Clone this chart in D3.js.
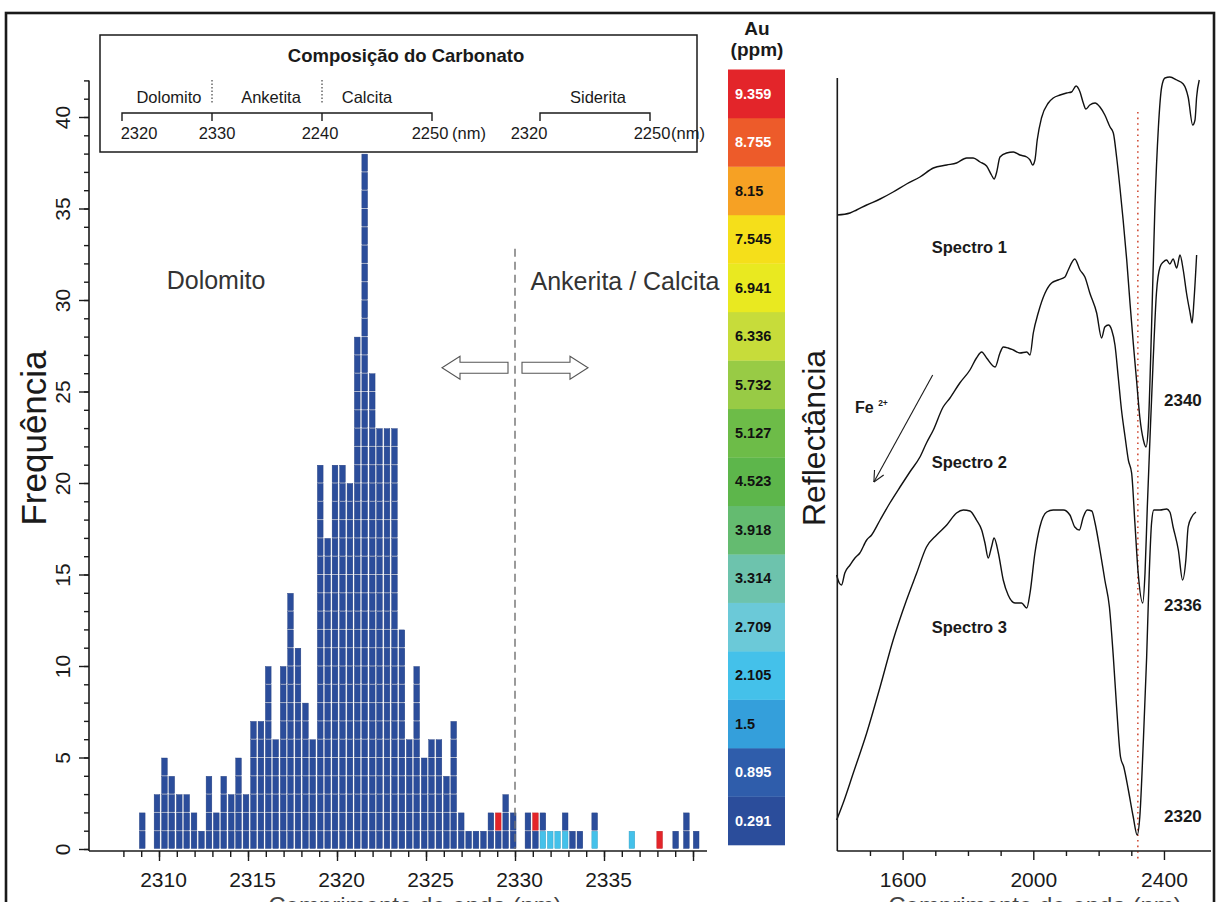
<!DOCTYPE html>
<html>
<head>
<meta charset="utf-8">
<script src="https://cdn.jsdelivr.net/npm/d3@7"></script>
<style>
  html, body { margin: 0; padding: 0; background: #fff; }
  svg { display: block; font-family: "Liberation Sans", Arial, Helvetica, sans-serif; }
</style>
</head>
<body>
<svg id="fig" width="1217" height="902"></svg>
<script>
// ---------------- Histogram: position of the carbonate absorption feature (nm) ----------------
const binWidth = 0.417;
const binStart = [
  2308.88, 2309.71, 2310.13, 2310.54, 2310.96, 2311.38, 2311.79, 2312.21, 2312.63, 2313.04,
  2313.46, 2313.88, 2314.29, 2314.71, 2315.13, 2315.55, 2315.96, 2316.38, 2316.80, 2317.21,
  2317.63, 2318.05, 2318.46, 2318.88, 2319.30, 2319.71, 2320.13, 2320.55, 2320.96, 2321.38,
  2321.80, 2322.21, 2322.63, 2323.05, 2323.47, 2323.88, 2324.30, 2324.72, 2325.13, 2325.55,
  2325.97, 2326.38, 2326.80, 2327.22, 2327.63, 2328.05, 2328.47, 2328.88, 2329.30, 2329.72,
  2330.55, 2330.97, 2331.39, 2331.80, 2332.22, 2332.64, 2333.05, 2333.47, 2334.30, 2336.39,
  2337.95, 2338.85, 2339.45, 2340.00
];
const counts = [
  2, 3, 5, 4, 3, 3, 2, 1, 4, 2,
  4, 3, 5, 3, 7, 7, 10, 6, 10, 14,
  11, 8, 6, 21, 17, 21, 21, 20, 28, 38,
  26, 23, 23, 23, 12, 6, 10, 5, 6, 6,
  4, 7, 2, 1, 1, 1, 2, 2, 3, 2,
  2, 2, 2, 1, 1, 2, 1, 1, 2, 1,
  1, 1, 2, 1
];
// samples coloured by Au grade: [bin start, stack level (0 = bottom), grade index]
const auCells = [
  [2328.88, 1, 15], [2330.97, 1, 15], [2331.39, 0, 3], [2331.80, 0, 3],
  [2332.22, 0, 3], [2332.64, 0, 3], [2334.30, 0, 3], [2336.39, 0, 3], [2337.95, 0, 15]
];
const histMajorTicks = [2310, 2315, 2320, 2325, 2330, 2335, 2340];
const freqMajorTicks = [0, 5, 10, 15, 20, 25, 30, 35, 40];

// ---------------- Au (ppm) colour classes ----------------
const auLevels = ["0.291", "0.895", "1.5", "2.105", "2.709", "3.314", "3.918", "4.523",
                  "5.127", "5.732", "6.336", "6.941", "7.545", "8.15", "8.755", "9.359"];
const auColours = ["#2b4d9b", "#2f5dab", "#349fdb", "#44c1ea", "#6bc9d8", "#6dc3ad", "#64bb70", "#5db64b",
                   "#6dbc48", "#98cb45", "#c7dc3a", "#e9e920", "#f5df1a", "#f6a124", "#ed5b2a", "#e3252a"];
const auWhiteText = ["0.291", "0.895", "8.755", "9.359"];

// ---------------- Reflectance spectra: [wavelength nm, relative reflectance (offset)] ----------------
const spectro1 = [
  [1400,63.5],[1439,63.7],[1459,64.0],[1490,64.5],[1531,65.1],[1571,65.8],[1612,66.6],[1653,67.3],
  [1694,68.2],[1735,68.5],[1765,68.7],[1796,69.2],[1816,69.2],[1837,68.8],[1857,68.4],[1872,67.5],
  [1880,67.1],[1888,67.8],[1898,69.3],[1918,69.7],[1939,69.8],[1959,69.5],[1980,69.3],[1990,69.0],
  [1998,68.5],[2005,69.0],[2012,71.0],[2025,73.2],[2046,74.7],[2061,75.2],[2082,75.5],[2102,75.7],
  [2117,75.8],[2131,76.4],[2143,75.8],[2153,74.7],[2161,74.1],[2173,74.5],[2189,74.7],[2204,74.3],
  [2219,73.5],[2235,72.3],[2245,71.7],[2255,69.3],[2265,66.3],[2275,63.0],[2286,59.0],[2296,54.7],
  [2306,50.7],[2316,47.0],[2326,43.3],[2337,41.0],[2345,40.3],[2352,42.3],[2362,52.3],[2372,64.0],
  [2383,72.3],[2393,76.3],[2403,77.2],[2418,77.3],[2439,77.0],[2459,76.6],[2474,75.3],[2488,72.5],
  [2495,73.0],[2500,75.3],[2508,77.0]
];
const spectro2 = [
  [1398,27.5],[1406,26.7],[1413,26.5],[1423,27.7],[1439,28.5],[1454,29.2],[1469,29.7],[1490,31.0],
  [1505,31.5],[1531,33.0],[1561,34.7],[1592,36.3],[1622,37.8],[1653,39.3],[1673,40.7],[1694,42.0],
  [1724,44.3],[1745,45.2],[1775,46.7],[1806,48.0],[1826,49.2],[1842,49.8],[1857,49.2],[1883,48.3],
  [1898,49.7],[1908,50.3],[1923,50.2],[1939,50.0],[1959,49.7],[1980,49.8],[1990,49.5],[2000,51.7],
  [2015,53.7],[2036,55.7],[2056,56.7],[2076,57.0],[2097,57.3],[2107,58.0],[2127,59.1],[2143,58.0],
  [2158,57.3],[2173,55.7],[2194,53.7],[2209,51.2],[2219,52.3],[2230,52.5],[2240,52.0],[2250,50.5],
  [2260,47.3],[2270,44.0],[2281,41.3],[2291,39.0],[2301,37.7],[2311,32.7],[2321,27.7],[2335,24.7],
  [2342,27.7],[2349,34.3],[2357,41.0],[2367,49.0],[2377,55.7],[2388,58.3],[2398,58.8],[2408,59.0],
  [2418,58.6],[2428,59.1],[2439,58.2],[2449,59.5],[2459,58.0],[2469,55.7],[2480,53.7],[2486,52.7],
  [2492,55.0],[2500,59.5]
];
const spectro3 = [
  [1398,3.0],[1418,4.7],[1449,7.7],[1490,11.7],[1531,16.3],[1571,21.0],[1612,25.0],[1643,27.7],
  [1673,30.3],[1704,31.5],[1735,32.5],[1765,33.7],[1786,34.0],[1806,33.9],[1826,33.0],[1842,32.0],
  [1852,30.7],[1862,29.2],[1872,30.3],[1880,31.2],[1893,29.7],[1908,27.0],[1923,25.5],[1944,24.7],
  [1964,24.7],[1980,24.2],[1990,25.7],[2005,29.7],[2020,32.3],[2041,33.8],[2061,34.0],[2092,34.0],
  [2112,33.5],[2127,32.3],[2141,32.0],[2153,33.3],[2165,34.0],[2179,33.9],[2189,32.7],[2204,30.0],
  [2219,27.0],[2233,24.3],[2245,19.3],[2255,14.3],[2267,9.3],[2277,8.3],[2291,6.0],[2306,3.3],
  [2318,1.5],[2326,3.3],[2337,11.0],[2347,19.3],[2355,27.7],[2362,32.7],[2369,34.0],[2388,34.0],
  [2408,34.1],[2418,33.8],[2428,32.3],[2444,30.0],[2457,27.0],[2467,29.0],[2474,32.3],[2485,33.3],
  [2498,33.8]
];
const spectraLabels = ["Spectro 1", "Spectro 2", "Spectro 3"];
const featureLabels = ["2340", "2336", "2320"];
const specMajorTicks = [1600, 2000, 2400];
const specMinorTicks = [1500, 1700, 1800, 1900, 2100, 2200, 2300];
const referenceLine = 2320;

// ======================================================================
const svg = d3.select("#fig");
const ink = "#1a1a1a";
svg.append("rect").attr("width", 1217).attr("height", 902).attr("fill", "#fff");

// figure frame
svg.append("rect").attr("x", 6).attr("y", 13).attr("width", 1208).attr("height", 910)
  .attr("fill", "none").attr("stroke", ink).attr("stroke-width", 2.6);

// ---------------- histogram panel ----------------
const xH = d3.scaleLinear().domain([2310, 2340]).range([159, 693]);
const yH = d3.scaleLinear().domain([0, 42]).range([849, 80.4]);
const gH = svg.append("g");

const cells = [];
binStart.forEach((s, i) => {
  for (let j = 0; j < counts[i]; j++) {
    const hit = auCells.find(c => Math.abs(c[0] - s) < 1e-6 && c[1] === j);
    cells.push({ s, j, g: hit ? hit[2] : 0 });
  }
});
gH.selectAll("rect.cell").data(cells).join("rect")
  .attr("class", "cell")
  .attr("x", d => xH(d.s) + 0.3)
  .attr("width", d => xH(d.s + binWidth) - xH(d.s) - 1.7)
  .attr("y", d => yH(d.j + 1) + 0.5)
  .attr("height", d => yH(d.j) - yH(d.j + 1) - 1)
  .attr("fill", d => auColours[d.g])
  .attr("stroke", d => d3.color(auColours[d.g]).darker(0.6))
  .attr("stroke-width", 0.4);

// divider between the two carbonate groups
gH.append("line")
  .attr("x1", xH(2330)).attr("x2", xH(2330))
  .attr("y1", yH(32.8)).attr("y2", yH(0))
  .attr("stroke", "#707070").attr("stroke-width", 1.4).attr("stroke-dasharray", "8,5");

// hollow arrows either side of the divider
const arrowY = yH(26.3);
function hollowArrow(dir) {
  const x0 = xH(2330) + dir * 7, len = 66, head = 18, hh = 11.5, sh = 5.5;
  const xb = x0 + dir * (len - head), xt = x0 + dir * len;
  const pts = [[x0, arrowY - sh], [xb, arrowY - sh], [xb, arrowY - hh], [xt, arrowY],
               [xb, arrowY + hh], [xb, arrowY + sh], [x0, arrowY + sh]];
  gH.append("polygon").attr("points", pts.map(p => p.join(",")).join(" "))
    .attr("fill", "#fff").attr("stroke", "#555").attr("stroke-width", 1.1);
}
hollowArrow(-1);
hollowArrow(1);

gH.append("text").attr("x", 216).attr("y", 289).attr("text-anchor", "middle")
  .attr("font-size", 25).attr("fill", "#333").text("Dolomito");
gH.append("text").attr("x", 625).attr("y", 290).attr("text-anchor", "middle")
  .attr("font-size", 25).attr("fill", "#333").text("Ankerita / Calcita");

// x axis
const axX = gH.append("g").attr("transform", "translate(0,851)");
axX.append("g").call(d3.axisBottom(xH).tickValues(d3.range(2308, 2341)).tickSize(6).tickFormat(""));
axX.append("g").call(d3.axisBottom(xH).tickValues(histMajorTicks).tickSize(10).tickPadding(11)
  .tickFormat(d => d === 2340 ? "" : d));
axX.selectAll(".domain").remove();
axX.selectAll("g").attr("font-family", null).attr("font-size", null);
axX.selectAll("line").attr("stroke", ink).attr("stroke-width", 1.4);
axX.selectAll("text").attr("font-size", 21).attr("fill", ink).attr("dx", 4);
gH.append("line").attr("x1", 89).attr("x2", 707).attr("y1", 851).attr("y2", 851)
  .attr("stroke", ink).attr("stroke-width", 1.6);

// y axis
const axY = gH.append("g").attr("transform", "translate(89,0)");
axY.append("g").call(d3.axisLeft(yH).tickValues(d3.range(0, 43)).tickSize(5).tickFormat(""));
const axYMaj = axY.append("g").call(d3.axisLeft(yH).tickValues(freqMajorTicks).tickSize(10));
axY.selectAll(".domain").remove();
axY.selectAll("g").attr("font-family", null).attr("font-size", null);
axY.selectAll("line").attr("stroke", ink).attr("stroke-width", 1.4);
axYMaj.selectAll("text")
  .attr("transform", "rotate(-90)").attr("x", 0).attr("y", -19).attr("dy", 0)
  .attr("text-anchor", "middle").attr("font-size", 21).attr("fill", ink);
gH.append("line").attr("x1", 89).attr("x2", 89).attr("y1", 851).attr("y2", yH(42))
  .attr("stroke", ink).attr("stroke-width", 1.6);

gH.append("text").attr("transform", "translate(46,438) rotate(-90)").attr("text-anchor", "middle")
  .attr("font-size", 35).attr("fill", ink).text("Frequência");
gH.append("text").attr("x", 415).attr("y", 914).attr("text-anchor", "middle")
  .attr("font-size", 24).attr("fill", "#444").text("Comprimento de onda (nm)");

// ---------------- carbonate composition key ----------------
const gK = svg.append("g");
gK.append("rect").attr("x", 100).attr("y", 35).attr("width", 597).attr("height", 117)
  .attr("fill", "#fff").attr("stroke", ink).attr("stroke-width", 1.5);
gK.append("text").attr("x", 406).attr("y", 62).attr("text-anchor", "middle")
  .attr("font-size", 18.5).attr("font-weight", "bold").attr("fill", ink).text("Composição do Carbonato");
const keyText = (x, y, t, anchor) => gK.append("text").attr("x", x).attr("y", y)
  .attr("text-anchor", anchor || "middle").attr("font-size", 16.5).attr("fill", ink).text(t);
keyText(169, 103, "Dolomito");
keyText(271, 103, "Anketita");
keyText(367, 103, "Calcita");
keyText(598, 103, "Siderita");
[212, 322].forEach(x => gK.append("line").attr("x1", x).attr("x2", x).attr("y1", 80).attr("y2", 104)
  .attr("stroke", ink).attr("stroke-width", 1).attr("stroke-dasharray", "1.5,2"));
function bracket(x1, x2, mids) {
  const p = d3.path();
  p.moveTo(x1, 121); p.lineTo(x1, 113); p.lineTo(x2, 113); p.lineTo(x2, 121);
  mids.forEach(m => { p.moveTo(m, 113); p.lineTo(m, 121); });
  gK.append("path").attr("d", p.toString()).attr("fill", "none").attr("stroke", ink).attr("stroke-width", 1.4);
}
bracket(122, 432, [212, 322]);
bracket(540, 650, []);
keyText(139, 139, "2320");
keyText(217, 139, "2330");
keyText(320, 139, "2240");
keyText(430, 139, "2250");
keyText(469, 139, "(nm)");
keyText(529, 139, "2320");
keyText(652, 139, "2250");
keyText(688, 139, "(nm)");

// ---------------- Au colour scale ----------------
const gC = svg.append("g");
const yC = d3.scaleBand().domain(auLevels).range([845, 69.5]);
gC.selectAll("rect").data(auLevels).join("rect")
  .attr("x", 728).attr("width", 57)
  .attr("y", d => yC(d)).attr("height", yC.bandwidth() + 0.3)
  .attr("fill", (d, i) => auColours[i]);
gC.selectAll("text.lv").data(auLevels).join("text")
  .attr("class", "lv")
  .attr("x", 735).attr("y", d => yC(d) + yC.bandwidth() / 2 + 5)
  .attr("font-size", 14.5).attr("font-weight", "bold")
  .attr("fill", d => auWhiteText.includes(d) ? "#fff" : "#111").text(d => d);
gC.append("text").attr("x", 757).attr("y", 35).attr("text-anchor", "middle")
  .attr("font-size", 19).attr("font-weight", "bold").attr("fill", ink).text("Au");
gC.append("text").attr("x", 757).attr("y", 56).attr("text-anchor", "middle")
  .attr("font-size", 19).attr("font-weight", "bold").attr("fill", ink).text("(ppm)");

// ---------------- reflectance spectra panel ----------------
const xS = d3.scaleLinear().domain([1400, 2540]).range([837.3, 1209.7]);
const yS = d3.scaleLinear().domain([0, 77]).range([850, 80]);
const gS = svg.append("g");

gS.append("line").attr("x1", xS(referenceLine)).attr("x2", xS(referenceLine))
  .attr("y1", yS(73.8)).attr("y2", 859)
  .attr("stroke", "#d2503a").attr("stroke-width", 1.6).attr("stroke-dasharray", "1.6,4");

const line = d3.line().x(d => xS(d[0])).y(d => yS(d[1])).curve(d3.curveMonotoneX);
[spectro1, spectro2, spectro3].forEach(s => {
  gS.append("path").attr("d", line(s)).attr("fill", "none")
    .attr("stroke", "#111").attr("stroke-width", 1.4).attr("stroke-linejoin", "round");
});

const axS = gS.append("g").attr("transform", "translate(0,851)");
axS.append("g").call(d3.axisBottom(xS).tickValues(specMinorTicks).tickSize(5).tickFormat(""));
axS.append("g").call(d3.axisBottom(xS).tickValues(specMajorTicks).tickSize(9).tickPadding(12)
  .tickFormat(d3.format("d")));
axS.selectAll(".domain").remove();
axS.selectAll("g").attr("font-family", null).attr("font-size", null);
axS.selectAll("line").attr("stroke", ink).attr("stroke-width", 1.4);
axS.selectAll("text").attr("font-size", 21).attr("fill", ink);
gS.append("line").attr("x1", xS(1400)).attr("x2", 1211).attr("y1", 851).attr("y2", 851)
  .attr("stroke", ink).attr("stroke-width", 1.6);
gS.append("line").attr("x1", xS(1400)).attr("x2", xS(1400)).attr("y1", 851).attr("y2", 78)
  .attr("stroke", ink).attr("stroke-width", 1.6);

gS.append("text").attr("transform", "translate(825,438) rotate(-90)").attr("text-anchor", "middle")
  .attr("font-size", 32).attr("fill", ink).text("Reflectância");
gS.append("text").attr("x", 1035).attr("y", 914).attr("text-anchor", "middle")
  .attr("font-size", 24).attr("fill", "#444").text("Comprimento de onda (nm)");

// curve names and feature positions
const nameY = [59.7, 38.2, 21.7];
const featY = [44.4, 23.9, 2.8];
spectraLabels.forEach((t, i) => {
  gS.append("text").attr("x", xS(1689)).attr("y", yS(nameY[i]))
    .attr("font-size", 16.5).attr("font-weight", "bold").attr("fill", ink).text(t);
});
featureLabels.forEach((t, i) => {
  gS.append("text").attr("x", 1164).attr("y", yS(featY[i]))
    .attr("font-size", 17).attr("font-weight", "bold").attr("fill", ink).text(t);
});

// Fe2+ trend arrow
const a0 = [xS(1692), yS(47.5)], a1 = [xS(1512), yS(36.8)];
gS.append("line").attr("x1", a0[0]).attr("y1", a0[1]).attr("x2", a1[0]).attr("y2", a1[1])
  .attr("stroke", ink).attr("stroke-width", 1.1);
const ang = Math.atan2(a0[1] - a1[1], a0[0] - a1[0]);
[-0.45, 0.45].forEach(da => {
  gS.append("line").attr("x1", a1[0]).attr("y1", a1[1])
    .attr("x2", a1[0] + 12 * Math.cos(ang + da)).attr("y2", a1[1] + 12 * Math.sin(ang + da))
    .attr("stroke", ink).attr("stroke-width", 1.1);
});
const fe = gS.append("text").attr("x", 855).attr("y", 413)
  .attr("font-size", 16).attr("font-weight", "bold").attr("fill", ink);
fe.append("tspan").text("Fe ");
fe.append("tspan").attr("font-size", 8.5).attr("dy", -7).text("2+");
</script>
</body>
</html>
